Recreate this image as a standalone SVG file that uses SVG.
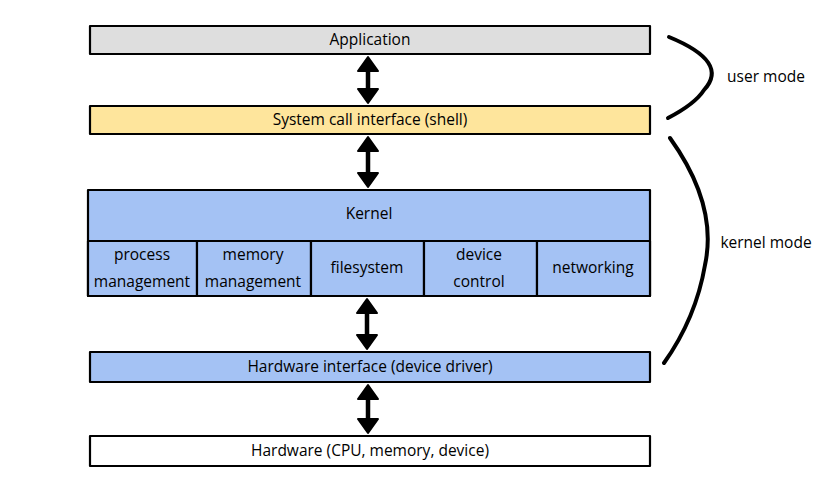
<svg xmlns="http://www.w3.org/2000/svg" width="830" height="482" viewBox="0 0 830 482">
<defs>
<style>
.box{stroke:#000;stroke-width:2.2;stroke-linejoin:round}
.t{font-family:"Open Sans","Liberation Sans",sans-serif;font-size:15.5px;fill:#000;text-anchor:middle;dominant-baseline:central}
.arr{stroke:#000;stroke-width:4.5;fill:none;stroke-linecap:round}
.brace{stroke:#000;stroke-width:4;fill:none;stroke-linecap:round}
.head{fill:#000;stroke:#000;stroke-width:2;stroke-linejoin:round}
</style>
</defs>
<rect width="830" height="482" fill="#fff"/>
<g id="application">
<rect class="box" x="90" y="26" width="560" height="28" fill="#dedede"/>
<text class="t" x="370" y="39">Application</text>
</g>
<g id="syscall">
<rect class="box" x="90" y="106" width="560" height="28" fill="#fee59c"/>
<text class="t" x="370" y="119">System call interface (shell)</text>
</g>
<g id="kernel">
<rect class="box" x="88" y="190" width="562" height="106" fill="#a4c2f4"/>
<text class="t" x="369" y="213">Kernel</text>
</g>
<g id="process">
<rect class="box" x="88" y="241" width="109" height="55" fill="#a4c2f4"/>
<text class="t" x="142" y="254">process</text>
<text class="t" x="142" y="281">management</text>
</g>
<g id="memory">
<rect class="box" x="197" y="241" width="114" height="55" fill="#a4c2f4"/>
<text class="t" x="253" y="254">memory</text>
<text class="t" x="253" y="281">management</text>
</g>
<g id="filesystem">
<rect class="box" x="311" y="241" width="113" height="55" fill="#a4c2f4"/>
<text class="t" x="367" y="267">filesystem</text>
</g>
<g id="device">
<rect class="box" x="424" y="241" width="113" height="55" fill="#a4c2f4"/>
<text class="t" x="479" y="254">device</text>
<text class="t" x="479" y="281">control</text>
</g>
<g id="networking">
<rect class="box" x="537" y="241" width="113" height="55" fill="#a4c2f4"/>
<text class="t" x="593" y="267">networking</text>
</g>
<g id="hwinterface">
<rect class="box" x="90" y="352" width="560" height="30" fill="#a4c2f4"/>
<text class="t" x="370" y="366">Hardware interface (device driver)</text>
</g>
<g id="hardware">
<rect class="box" x="90" y="436" width="560" height="30" fill="#fff"/>
<text class="t" x="370" y="450">Hardware (CPU, memory, device)</text>
</g>
<g id="connectors">
<line class="arr" x1="368" y1="64" x2="368" y2="96"/>
<path class="head" d="M368,57 L378,71 L358,71 Z"/>
<path class="head" d="M368,103 L378,89 L358,89 Z"/>
<line class="arr" x1="368" y1="144" x2="368" y2="180"/>
<path class="head" d="M368,137 L378,151 L358,151 Z"/>
<path class="head" d="M368,187 L378,173 L358,173 Z"/>
<line class="arr" x1="367" y1="306" x2="367" y2="342"/>
<path class="head" d="M367,299 L377,313 L357,313 Z"/>
<path class="head" d="M367,349 L377,335 L357,335 Z"/>
<line class="arr" x1="368" y1="392" x2="368" y2="426"/>
<path class="head" d="M368,385 L378,399 L358,399 Z"/>
<path class="head" d="M368,433 L378,419 L358,419 Z"/>
</g>
<g id="user-mode">
<path class="brace" d="M669,37 Q730,62 704,90 Q695,104 668,118"/>
<text class="t" x="766" y="76">user mode</text>
</g>
<g id="kernel-mode">
<path class="brace" d="M670,138 Q718,205 705,265 Q696,318 664,363"/>
<text class="t" x="766" y="242">kernel mode</text>
</g>
</svg>
